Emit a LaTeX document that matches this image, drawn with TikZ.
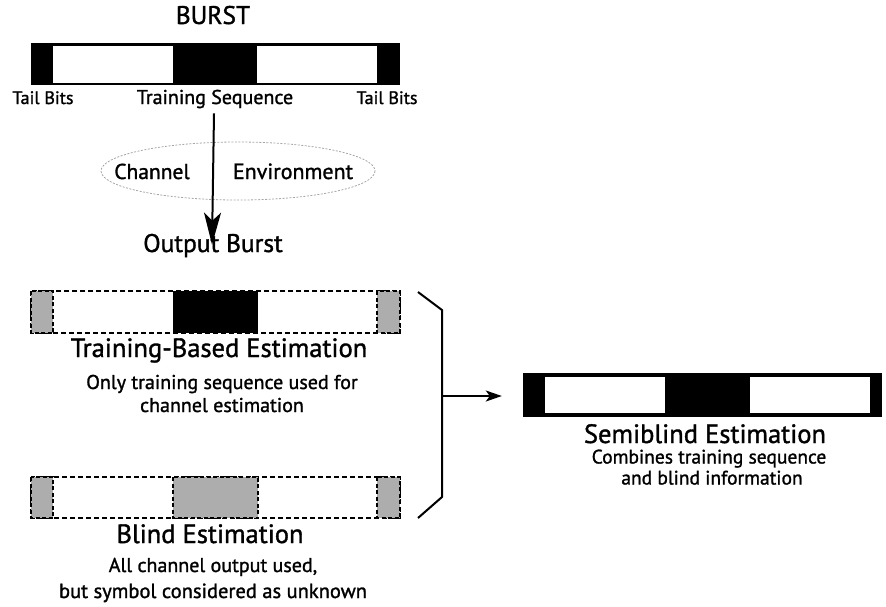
\documentclass[tikz,border=0pt]{standalone}
\usepackage{fontspec}
\setmainfont{PT Sans}[FakeBold=1.3]
\usetikzlibrary{arrows.meta}
\begin{document}
\begin{tikzpicture}[x=1pt,y=-1pt,
  txt/.style={inner sep=0pt, anchor=base},
  fs/.style={font=\fontsize{#1}{#1}\selectfont},
  dashframe/.style={draw=black, line width=2pt, dash pattern=on 5pt off 3pt},
  grayseg/.style={fill=black!32, draw=black, line width=1.6pt, dash pattern=on 4pt off 2.5pt},
  mainline/.style={line width=2pt},
]
\useasboundingbox (0,0) rectangle (886,606);

% --- transmitted burst ---
\node[txt, fs=25.5] (burst) at (213,24) {BURST};
\fill (31,43) rectangle (400,85);
\fill[white] (53,46) rectangle (173,83);
\fill[white] (257,46) rectangle (377,83);
\node[txt, fs=18] (tailL) at (43,104) {Tail Bits};
\node[txt, fs=20] (tseq) at (215,104) {Training Sequence};
\node[txt, fs=18] (tailR) at (387,104) {Tail Bits};

% --- channel environment ---
\draw[black!35, line width=0.8pt, dash pattern=on 2pt off 1.5pt] (238,171) ellipse [x radius=137, y radius=29];
\node[txt, fs=21.5] (chan) at (152,179) {Channel};
\node[txt, fs=22] (env) at (293,179) {Environment};
\node[txt, fs=25.5] (outb) at (213,252) {Output Burst};
\draw[mainline, -{Stealth[length=32pt, width=17pt, inset=8pt]}]
  ([xshift=-1pt,yshift=-5pt]tseq.south) -- ([xshift=-1pt,yshift=-11pt]outb.north);

% --- training-based estimation ---
\draw[dashframe] (31,291) rectangle (400,333);
\fill (173,291) rectangle (258,333);
\draw[grayseg] (31,291) rectangle (53,333);
\draw[grayseg] (377,291) rectangle (400,333);
\node[txt, fs=26.5] (tbe) at (219,357) {Training-Based Estimation};
\node[txt, fs=20] (tbe1) at (222,389) {Only training sequence used for};
\node[txt, fs=20] (tbe2) at (222,412) {channel estimation};

% --- blind estimation ---
\draw[dashframe] (31,477) rectangle (400,518);
\draw[grayseg] (31,477) rectangle (53,518);
\draw[grayseg] (173,477) rectangle (258,518);
\draw[grayseg] (377,477) rectangle (400,518);
\node[txt, fs=26.5] (be) at (210,543) {Blind Estimation};
\node[txt, fs=20] (be1) at (213,572) {All channel output used,};
\node[txt, fs=20.5] (be2) at (213,598) {but symbol considered as unknown};

% --- combining bracket ---
\coordinate (bt) at (418,292);
\coordinate (bb) at (418,518);
\coordinate (bm) at (442,396);
\draw[mainline] (bt) -- (442,310) -- (442,497) -- (bb);

% --- semiblind estimation ---
\node[fill=black, inner sep=0pt, minimum width=359pt, minimum height=44pt] (sb) at (702.5,395) {};
\fill[white] (545,377) rectangle (665,413);
\fill[white] (750,377) rectangle (870,413);
\draw[mainline, -{Stealth[length=16pt, width=11pt, inset=4pt]}, shorten >=21pt] (bm) -- (bm -| sb.west);
\node[txt, fs=26.5] (sbe) at (705,443) {Semiblind Estimation};
\node[txt, fs=19.5] (sbe1) at (709,463.5) {Combines training sequence};
\node[txt, fs=19.5] (sbe2) at (712,484.5) {and blind information};
\end{tikzpicture}
\end{document}
